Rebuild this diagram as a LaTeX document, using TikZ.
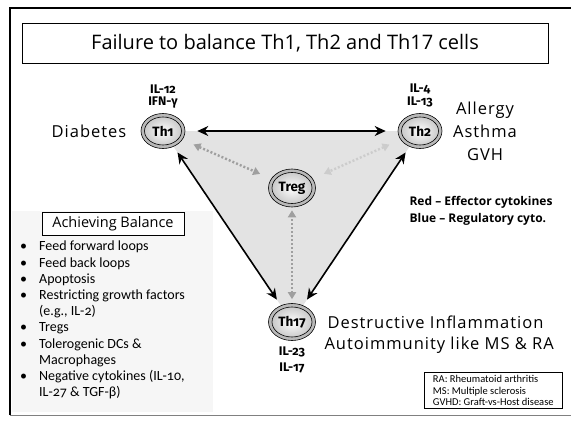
\documentclass[tikz,border=0pt]{standalone}
\usepackage{fontspec}
\setmainfont{Open Sans}
\newfontfamily\listfont[Numbers=OldStyle]{Carlito}
\newfontfamily\cytofont[Numbers=OldStyle]{Fira Sans}
\newfontfamily\labelfont[LetterSpace=6]{Open Sans}
\usetikzlibrary{shapes.geometric}
\usetikzlibrary{arrows.meta}
\newcommand*{\ring}{3.5pt}
\newcommand*{\gap}{12pt}
\definecolor{tri}{gray}{0.89}
\definecolor{panel}{gray}{0.965}

\tikzset{
    cell/.style 2 args={ellipse, draw, semithick, fill=gray!55, minimum width=#1, minimum height=#2, inner sep=0pt,
        font=\cytofont\bfseries\fontsize{13.5}{13.5}\selectfont,
        path picture={\shade [inner color=white, outer color=gray!50, draw=black, semithick] (path picture bounding box.center) ellipse [x radius=#1/2-\ring, y radius=#2/2-\ring];}},
    cyto/.style={font=\cytofont\bfseries\fontsize{12.5}{12.5}\selectfont, inner sep=1pt},
    disease/.style={font=\labelfont\fontsize{16.5}{23}\selectfont, align=center},
    effector/.style={{Stealth[length=11pt,width=10pt]}-{Stealth[length=11pt,width=10pt]}, line width=1.6pt, shorten <=7pt, shorten >=7pt},
    regulator/.style={{Triangle[length=7pt,width=8pt]}-{Triangle[length=7pt,width=8pt]}, line width=2.4pt, dash pattern=on 2pt off 2pt}
}

\begin{document}
\begin{tikzpicture}[x=1pt, y=-1pt]
    \useasboundingbox (0,0) rectangle (571,426);
    % frame and title
    \draw [line width=1.2pt] (10,415) -- (10,8) -- (575,8);
    \draw [gray, line width=1pt] (10,415) -- (575,415);
    \node [draw, line width=0.8pt, minimum width=526pt, minimum height=40pt, font=\fontsize{20}{20}\selectfont] (title) at (285,43) {Failure to balance Th1, Th2 and Th17 cells};

    % triangle of cells
    \coordinate (p1)  at (163,131);
    \coordinate (p2)  at (420,131);
    \coordinate (p17) at (292,322);
    \fill [tri] (p1) -- (p2) -- (p17) -- cycle;
    \node [cell={44pt}{35pt}] (th1)  at (p1)  {Th1};
    \node [cell={44pt}{35pt}] (th2)  at (p2)  {Th2};
    \node [cell={47pt}{37pt}] (th17) at (p17) {Th17};
    \node [cell={47pt}{38pt}] (treg) at (292,188) {Treg};

    \draw [effector, shorten <=\gap, shorten >=\gap] (th1) -- (th2);
    \draw [effector] (th1) -- (th17);
    \draw [effector] (th2) -- (th17);
    \draw [regulator, gray!75, shorten <=\gap, shorten >=\gap] (th1) -- (treg);
    \draw [regulator, gray!40, shorten <=\gap, shorten >=\gap] (th2) -- (treg);
    \draw [regulator, gray!75, shorten <=4pt, shorten >=3pt] (th17) -- (treg);

    % cytokines and diseases
    \node [cyto] (il12) at (163,89)  {IL-12};
    \node [cyto] (ifng) at (163,103) {IFN-γ};
    \node [cyto] (il4)  at (420,89)  {IL-4};
    \node [cyto] (il13) at (420,102) {IL-13};
    \node [cyto] (il23) at (292,352) {IL-23};
    \node [cyto] (il17) at (292,368) {IL-17};
    \node [disease] (diab) at (89,131) {Diabetes};
    \node [disease] (alle) at (485,131) {Allergy\\Asthma\\GVH};
    \node [disease, anchor=west] (infl) at (324,322) {Destructive Inflammation};
    \node [disease, anchor=west] (auto) at (321,345) {Autoimmunity like MS \& RA};
    \node [font=\bfseries\fontsize{12}{17}\selectfont, align=left, anchor=north west] (key) at (406,193) {Red -- Effector cytokines\\Blue -- Regulatory cyto.};

    % balance panel
    \fill [panel] (12,211) rectangle (213,412);
    \node [draw, semithick, fill=white, minimum width=142pt, minimum height=23pt, font=\fontsize{14.5}{14.5}\selectfont] (bal) at (113,224) {Achieving Balance};
    \node [anchor=north west, inner sep=0pt, align=left, font=\listfont\fontsize{14}{16.2}\selectfont] (list) at (20,241) {%
        •\hspace{12pt}Feed forward loops\\
        •\hspace{12pt}Feed back loops\\
        •\hspace{12pt}Apoptosis\\
        •\hspace{12pt}Restricting growth factors\\
        \phantom{•}\hspace{12pt}(e.g., IL-2)\\
        •\hspace{12pt}Tregs\\
        •\hspace{12pt}Tolerogenic DCs \&\\
        \phantom{•}\hspace{12pt}Macrophages\\
        •\hspace{12pt}Negative cytokines (IL-10,\\
        \phantom{•}\hspace{12pt}IL-27 \& TGF-β)};

    % abbreviations
    \node [draw, semithick, anchor=north west, align=left, inner sep=3pt, font=\listfont\fontsize{10.5}{11.5}\selectfont, minimum width=138pt] (abbr) at (424,372) {RA: Rheumatoid arthritis\\MS: Multiple sclerosis\\GVHD: Graft-vs-Host disease};
\end{tikzpicture}
\end{document}
